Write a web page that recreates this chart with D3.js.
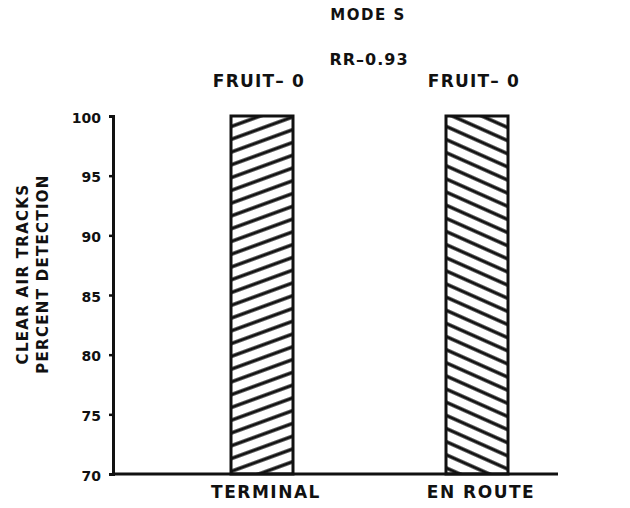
<!DOCTYPE html>
<html>
<head>
<script src="https://cdn.jsdelivr.net/npm/d3@7"></script>
<style>
body { margin: 0; background: white; }
text { font-family: "DejaVu Sans", sans-serif; font-weight: bold; fill: #111; }
</style>
</head>
<body>
<script>

var categories = ["TERMINAL", "EN ROUTE"]
var detection = [100, 100]
var fruitLabels = ["FRUIT\u2013 0", "FRUIT\u2013 0"]
var yTicks = [70, 75, 80, 85, 90, 95, 100]
var title = "MODE S"
var subtitle = "RR\u20130.93"

var width = 630, height = 508

var svg = d3.select("body").append("svg")
  .attr("width", width)
  .attr("height", height)

var y = d3.scaleLinear().domain([70, 100]).range([474, 116])
var x = d3.scalePoint().domain(categories).range([262, 477])
var barW = 62
var axisLeft = 113, axisRight = 558

// hatch patterns, one leaning each way
var defs = svg.append("defs")
function hatch(id, angle) {
  var p = defs.append("pattern")
    .attr("id", id)
    .attr("patternUnits", "userSpaceOnUse")
    .attr("width", 12).attr("height", 12)
    .attr("patternTransform", "rotate(" + angle + ")")
  p.append("rect").attr("width", 12).attr("height", 12).attr("fill", "white")
  p.append("line")
    .attr("x1", 0).attr("y1", 6).attr("x2", 12).attr("y2", 6)
    .attr("stroke", "#111").attr("stroke-width", 3.4)
}
hatch("hatchUp", -20)
hatch("hatchDown", 24)

svg.selectAll("rect.bar")
  .data(categories)
  .enter().append("rect")
  .attr("class", "bar")
  .attr("x", function(d) { return x(d) - barW / 2 })
  .attr("y", function(d, i) { return y(detection[i]) })
  .attr("width", barW)
  .attr("height", function(d, i) { return y(70) - y(detection[i]) })
  .attr("fill", function(d, i) { return i == 0 ? "url(#hatchUp)" : "url(#hatchDown)" })
  .attr("stroke", "#111")
  .attr("stroke-width", 3)

// y axis
var yAxis = d3.axisLeft(y).tickValues(yTicks).tickSize(4).tickPadding(8)
var gy = svg.append("g").attr("transform", "translate(" + axisLeft + ",0)").call(yAxis)
gy.select(".domain").attr("stroke", "#111").attr("stroke-width", 3)
gy.selectAll(".tick line").attr("stroke", "#111").attr("stroke-width", 2.5)
gy.selectAll(".tick text")
  .attr("font-size", 14)
  .attr("dy", "0.45em")
  .attr("fill", "#111")
  .style("font-family", "'DejaVu Sans', sans-serif")
  .style("font-weight", "bold")

// x baseline
svg.append("line")
  .attr("x1", axisLeft).attr("x2", axisRight)
  .attr("y1", y(70)).attr("y2", y(70))
  .attr("stroke", "#111").attr("stroke-width", 3)

svg.selectAll("text.cat")
  .data(categories)
  .enter().append("text")
  .attr("class", "cat")
  .attr("x", function(d) { return x(d) + 4 })
  .attr("y", 498)
  .attr("text-anchor", "middle")
  .attr("font-size", 17)
  .attr("letter-spacing", 1.5)
  .text(function(d) { return d })

svg.selectAll("text.fruit")
  .data(fruitLabels)
  .enter().append("text")
  .attr("class", "fruit")
  .attr("x", function(d, i) { return x(categories[i]) - 3 })
  .attr("y", 87)
  .attr("text-anchor", "middle")
  .attr("font-size", 17)
  .attr("letter-spacing", 1.2)
  .text(function(d) { return d })

svg.append("text")
  .attr("x", 368).attr("y", 20)
  .attr("text-anchor", "middle")
  .attr("font-size", 15)
  .attr("letter-spacing", 1.5)
  .text(title)

svg.append("text")
  .attr("x", 369).attr("y", 65)
  .attr("text-anchor", "middle")
  .attr("font-size", 16)
  .attr("letter-spacing", 1)
  .text(subtitle)

// y title, two lines
var yTitle = svg.append("text")
  .attr("transform", "translate(28,274) rotate(-90)")
  .attr("text-anchor", "middle")
  .attr("font-size", 15)
  .attr("letter-spacing", 1.3)
yTitle.append("tspan").attr("x", 0).attr("dy", 0).text("CLEAR AIR TRACKS")
yTitle.append("tspan").attr("x", 0).attr("dy", 20).text("PERCENT DETECTION")

</script>
</body>
</html>
